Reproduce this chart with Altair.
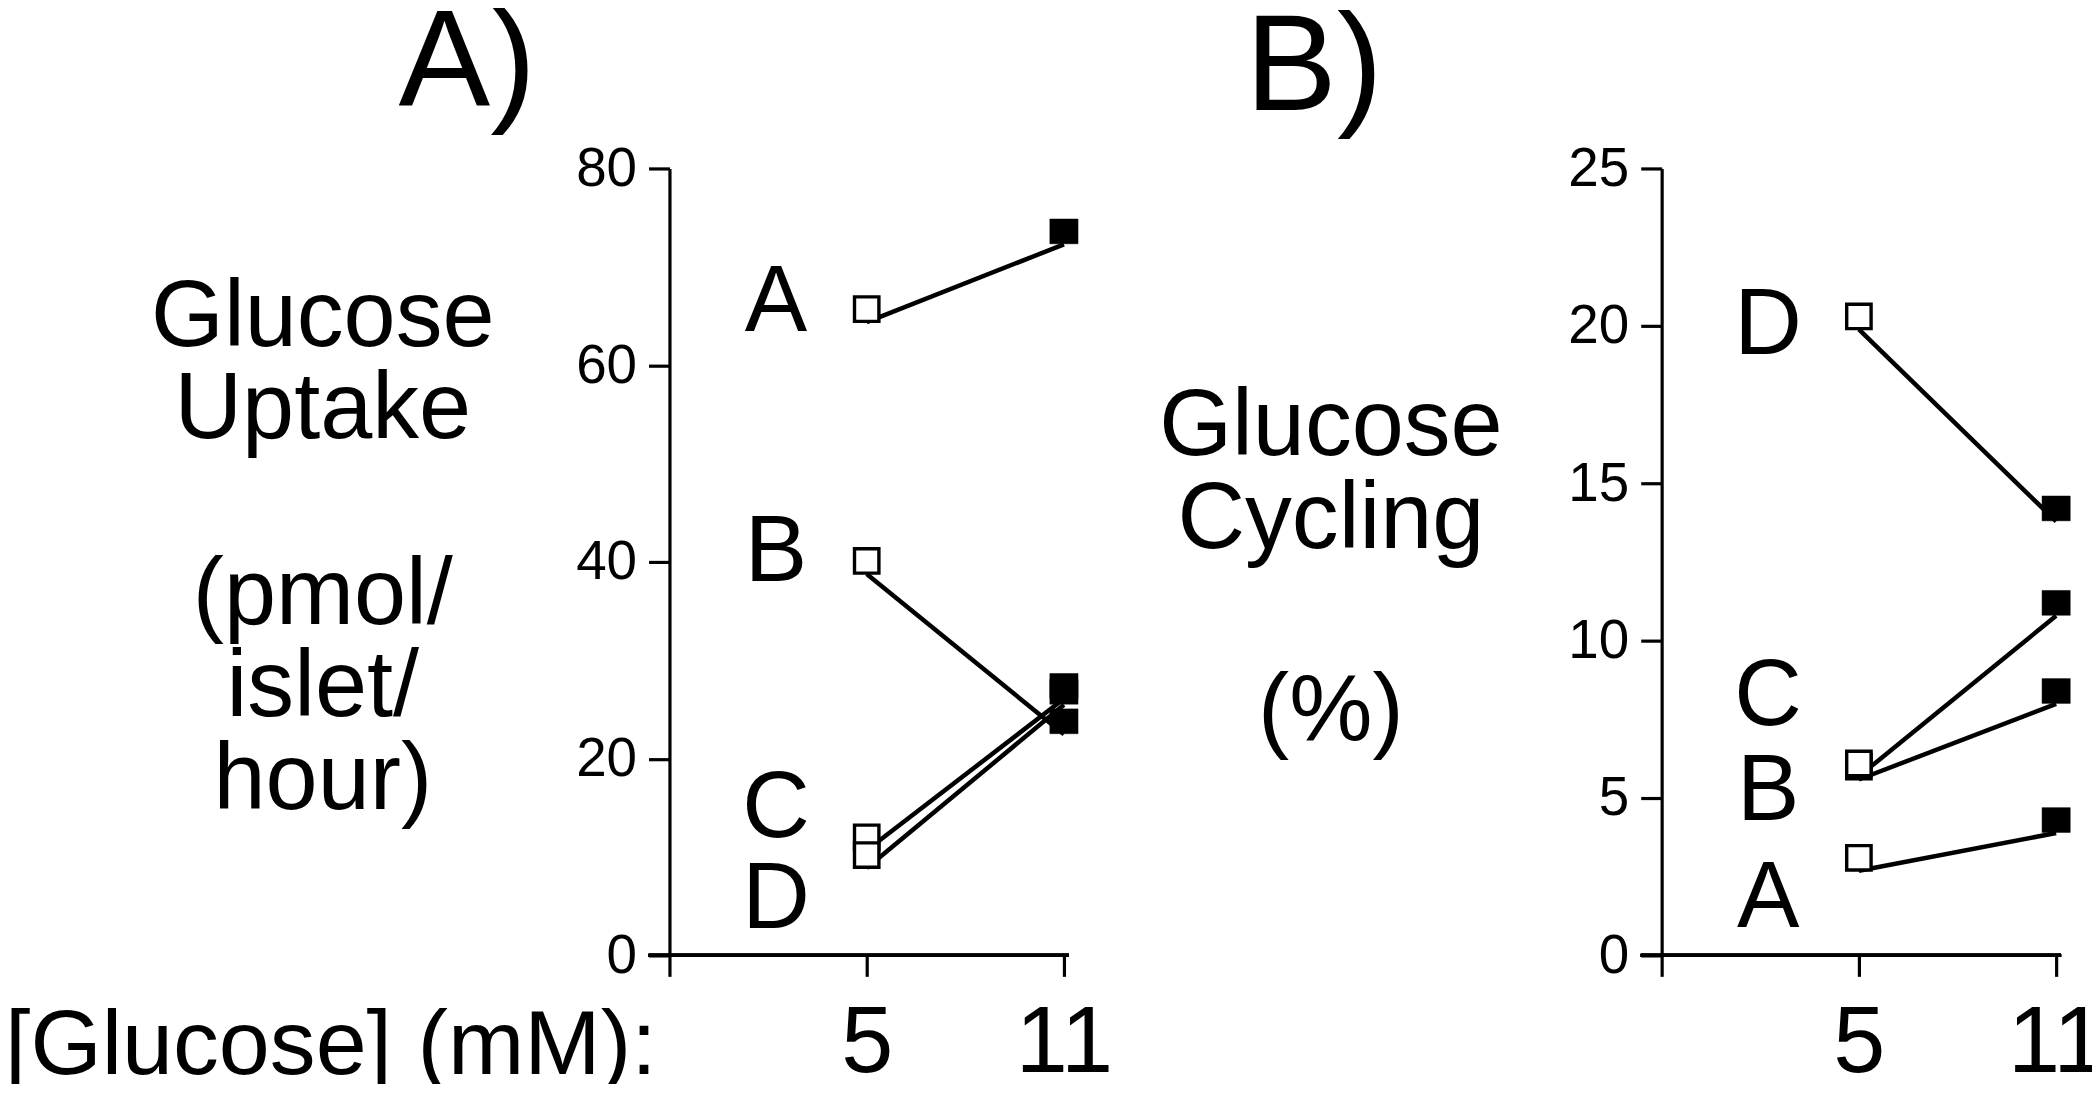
import altair as alt
import pandas as pd

# ---------------- data ----------------
groups = ["A", "B", "C", "D"]
glucose_mM = ["5", "11"]

uptake_5mM = [65.7, 40.1, 12.0, 10.2]
uptake_11mM = [73.6, 23.8, 27.4, 26.8]
uptake_label_y = [66.3, 40.9, 14.9, 5.6]

cycling_5mM = [3.1, 6.0, 6.1, 20.3]
cycling_11mM = [4.3, 8.4, 11.2, 14.2]
cycling_label_y = [1.8, 5.2, 8.2, 20.0]

uptake_ticks = [0, 20, 40, 60, 80]
cycling_ticks = [0, 5, 10, 15, 20, 25]

# ---------------- layout constants ----------------
FONT = "Liberation Sans"
PLOT_W, PLOT_H = 1408, 790
STEP = 198          # pixels between x categories
B_AXIS = 996        # pixel position of panel B's y axis inside the plot area
LABEL_POS = 0.54    # category position of the A-D letters
OPEN_BOX = "M-1,-1L1,-1L1,1L-1,1Z"
FULL_BOX = "M-1,-0.88L1,-0.88L1,0.88L-1,0.88Z"
AXIS_W = 3.2
LINE_H = 93


def long_table(v5, v11):
    rows = []
    for g, a, b in zip(groups, v5, v11):
        for lvl, v in zip(glucose_mM, (a, b)):
            rows.append({"group": g, "glucose": lvl,
                         "pos": glucose_mM.index(lvl) + 1, "value": v})
    return pd.DataFrame(rows)


def panel(v5, v11, label_y, ymax, yticks, xdomain, y_offset, x_line):
    df = long_table(v5, v11)
    lab = pd.DataFrame({"group": groups, "pos": [LABEL_POS] * len(groups),
                        "value": label_y})
    x = alt.X("pos:Q",
              scale=alt.Scale(domain=xdomain, nice=False, zero=False),
              axis=alt.Axis(orient="bottom", values=[0, 1, 2],
                            labelExpr="datum.value == 1 ? '5' : datum.value == 2 ? '11' : ''",
                            domain=False, grid=False, tickSize=21, tickWidth=AXIS_W,
                            tickColor="black", labelFont=FONT, labelFontSize=94,
                            labelColor="black", labelPadding=22, title=None,
                            labelFlush=False, labelOverlap=False))
    y = alt.Y("value:Q",
              scale=alt.Scale(domain=[0, ymax], nice=False, zero=True),
              axis=alt.Axis(orient="left", offset=y_offset, values=yticks,
                            domain=True, domainColor="black", domainWidth=AXIS_W,
                            tickSize=21, tickWidth=AXIS_W, tickColor="black",
                            labelFont=FONT, labelFontSize=55, labelPadding=12,
                            labelColor="black", title=None, grid=False,
                            labelFlush=False, labelOverlap=False))
    base = alt.Chart(df)
    lines = base.mark_line(color="black", strokeWidth=4.5, yOffset=13).encode(
        x=x, y=y, detail="group:N")
    opened = base.transform_filter(alt.datum.glucose == "5").mark_point(
        shape=OPEN_BOX, size=600, filled=True, fill="white", stroke="black",
        strokeWidth=3.4, opacity=1).encode(x=x, y=y)
    closed = base.transform_filter(alt.datum.glucose == "11").mark_point(
        shape=FULL_BOX, size=800, filled=True, fill="black", stroke="black",
        strokeWidth=0.5, opacity=1).encode(x=x, y=y)
    letters = alt.Chart(lab).mark_text(
        font=FONT, fontSize=94, color="black", align="center",
        baseline="middle").encode(x=x, y=y, text="group:N")
    xline = alt.Chart(df).mark_rule(color="black", strokeWidth=AXIS_W).encode(
        x=alt.value(x_line[0]), x2=alt.value(x_line[1]), y=alt.value(PLOT_H))
    return alt.layer(xline, lines, opened, closed, letters)


panel_a = panel(uptake_5mM, uptake_11mM, uptake_label_y, 80, uptake_ticks,
                [0, PLOT_W / STEP], 0, (-21, int(2.03 * STEP)))
panel_b = panel(cycling_5mM, cycling_11mM, cycling_label_y, 25, cycling_ticks,
                [-B_AXIS / STEP, (PLOT_W - B_AXIS) / STEP], -B_AXIS,
                (B_AXIS - 21, B_AXIS + int(2.03 * STEP)))

one = pd.DataFrame({"k": [0]})


def annot(text, x, y, size, align="center"):
    return alt.Chart(one).mark_text(
        text=text, font=FONT, fontSize=size, color="black", align=align,
        baseline="alphabetic", lineHeight=LINE_H).encode(
        x=alt.value(x), y=alt.value(y))


texts = alt.layer(
    annot("A)", -272, -63, 138, "left"),
    annot("B)", 578, -59, 138, "left"),
    annot(["Glucose", "Uptake"], -348, 178, 94),
    annot(["(pmol/", "islet/", "hour)"], -348, 178 + 3 * LINE_H, 94),
    annot(["Glucose", "Cycling"], 664, 288, 94),
    annot("(%)", 664, 574, 94),
    annot("[Glucose] (mM):", -667, 909, 92, "left"),
)

chart = alt.layer(panel_a, panel_b, texts).resolve_scale(
    x="independent", y="independent"
).properties(
    width=PLOT_W, height=PLOT_H,
    autosize=alt.AutoSizeParams(type="none"),
    padding={"left": 664, "top": 159, "right": 20, "bottom": 127},
    background="white",
).configure_view(stroke=None)

chart.save("out.html", embed_options={"renderer": "svg", "actions": False})
